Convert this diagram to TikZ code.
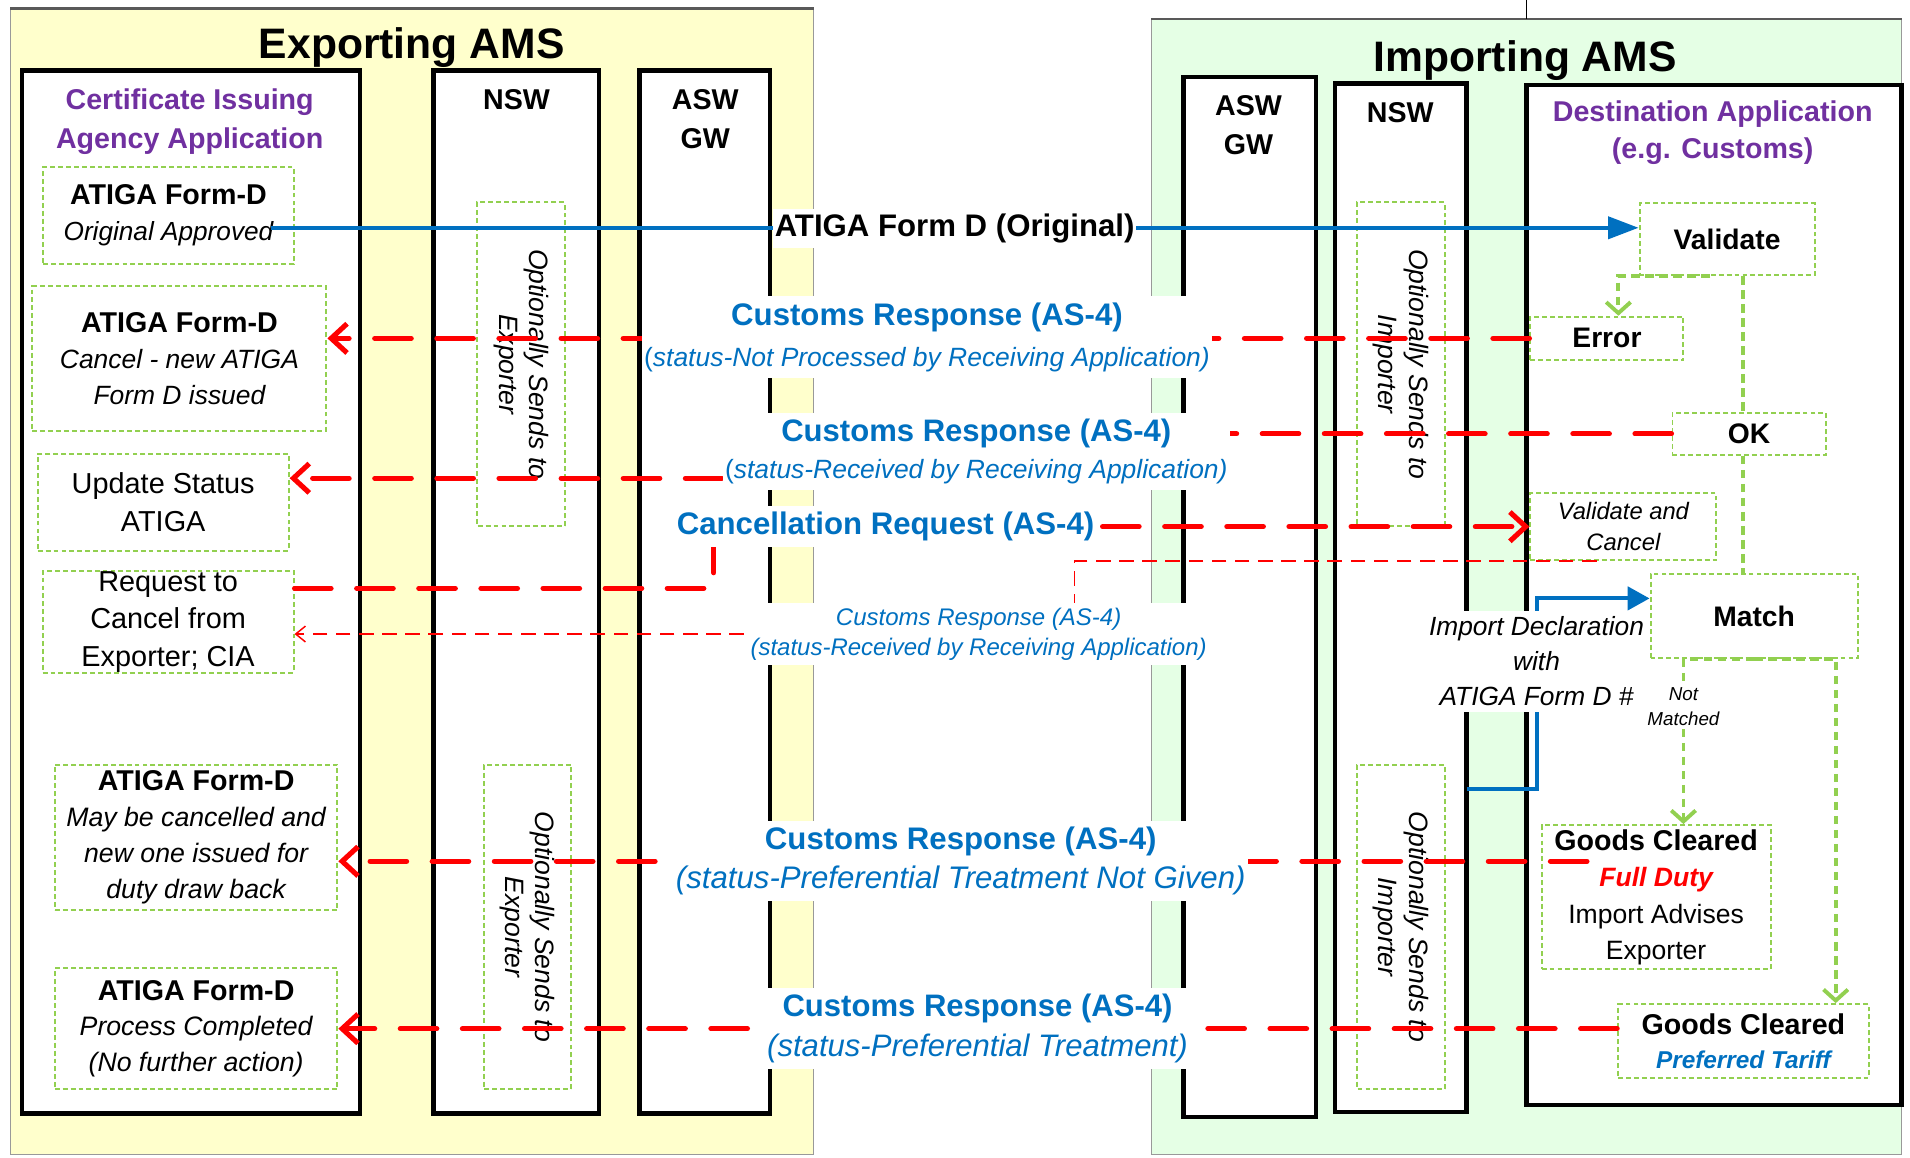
\documentclass[tikz,border=0pt]{standalone}
\usepackage{fontspec}
\setmainfont{Liberation Sans}
\usetikzlibrary{arrows.meta}

\definecolor{bluet}{RGB}{0,112,192}
\definecolor{purplet}{RGB}{112,48,160}
\definecolor{greendot}{RGB}{146,208,80}
\definecolor{redline}{RGB}{255,0,0}
\definecolor{expfill}{RGB}{255,255,204}
\definecolor{impfill}{RGB}{229,255,229}
\newcommand\setfs[2]{\fontsize{#1}{#2}\selectfont}

\begin{document}
\begin{tikzpicture}[x=1pt, y=-1pt,
  panel/.style={draw=black!40, line width=1pt, inner sep=0pt, outer sep=0pt, anchor=north west},
  lane/.style={draw=black, line width=3.6pt, fill=white, inner sep=0pt, outer sep=0pt, anchor=north west},
  head/.style={anchor=base, inner sep=0pt, font=\bfseries\setfs{23.5}{28}},
  dbox/.style={draw=greendot, line width=1.6pt, dash pattern=on 4pt off 2.5pt, inner sep=0pt, align=center},
  opt/.style={dbox, rotate=-90, minimum width=266pt, minimum height=72pt, font=\itshape\setfs{21.8}{24.7}},
  gline/.style={draw=greendot, line width=3.2pt, dash pattern=on 7pt off 4.5pt},
  garrow/.style={gline, -{Straight Barb[length=9pt,width=20pt]}},
  rline/.style={draw=redline, line width=4.2pt, dash pattern=on 30pt off 21pt, line cap=round, -{Straight Barb[length=13pt,width=24pt]}},
  rthin/.style={draw=redline, line width=1.2pt, dash pattern=on 12pt off 7pt, -{Straight Barb[length=8pt,width=13pt]}},
  bline/.style={draw=bluet, line width=3.3pt},
  lbl/.style={fill=white, inner xsep=2pt, inner ysep=5pt, align=center, text=bluet}
]
\useasboundingbox (0,0) rectangle (1568,950);

% ---------- the two member-state panels ----------
\node[panel, fill=expfill, minimum width=659.4pt, minimum height=941pt] (exppanel) at (8.6,7) {};
\node[panel, fill=impfill, minimum width=616pt, minimum height=932.4pt] (imppanel) at (945,15.6) {};
\draw[black!65, line width=2.2pt] (exppanel.north west) -- (exppanel.north east);
\draw[black!65, line width=2.2pt] (imppanel.north west) -- (imppanel.north east);
\coordinate (rail) at (1253,0);
\draw[black, line width=1pt] (rail) -- (rail |- imppanel.north);

% ---------- swim lanes ----------
\node[lane, minimum width=277.5pt, minimum height=856pt] (cia) at (18,58) {};
\node[lane, minimum width=135.5pt, minimum height=856pt] (expnsw) at (356,58) {};
\node[lane, minimum width=107pt, minimum height=856pt] (expasw) at (525,58) {};
\node[lane, minimum width=109pt, minimum height=853.4pt] (impasw) at (971.5,63.4) {};
\node[lane, minimum width=108pt, minimum height=844.3pt] (impnsw) at (1096,68.4) {};
\node[lane, minimum width=308pt, minimum height=837.2pt] (dest) at (1253,69.8) {};

% ---------- titles ----------
\node[anchor=base, inner sep=0pt, font=\bfseries\setfs{35}{40}] (expttl) at (338,47.7) {Exporting AMS};
\node[anchor=base, inner sep=0pt, font=\bfseries\setfs{35}{40}] (impttl) at (1252,58.8) {Importing AMS};
\node[head, text=purplet] (ciat1) at (155.7,89.8) {Certificate Issuing};
\node[head, text=purplet] (ciat2) at (155.7,121.8) {Agency Application};
\node[head] (expnswt) at (424,90) {NSW};
\node[head] (expaswt1) at (579,90) {ASW};
\node[head] (expaswt2) at (579,121.7) {GW};
\node[head] (impaswt1) at (1025,95) {ASW};
\node[head] (impaswt2) at (1025,126.5) {GW};
\node[head] (impnswt) at (1149.6,100.7) {NSW};
\node[head, text=purplet] (destt1) at (1406,100) {Destination Application};
\node[head, text=purplet] (destt2) at (1406,130) {(e.g. Customs)};

% ---------- exporting side activities ----------
\node[dbox, minimum width=205.4pt, minimum height=79.7pt, font=\setfs{23.5}{30}] (b1) at (138.3,176.85)
  {\textbf{ATIGA Form-D}\\{\itshape\setfs{21.5}{30}Original Approved}};
\node[dbox, minimum width=241.4pt, minimum height=119pt, font=\setfs{23.5}{29.5}] (b2) at (147.3,294.5)
  {\textbf{ATIGA Form-D}\\{\itshape\setfs{21.7}{29.5}Cancel - new ATIGA}\\{\itshape\setfs{21.7}{29.5}Form D issued}};
\node[dbox, minimum width=206pt, minimum height=79.3pt, font=\setfs{23.7}{31}] (b3) at (134,412.35)
  {Update Status\\ATIGA};
\node[dbox, minimum width=206pt, minimum height=79pt, font=\setfs{23.7}{31}] (b4) at (138,510.5)
  {Request to\\Cancel from\\Exporter; CIA};
\node[dbox, minimum width=232pt, minimum height=119pt, font=\setfs{23.5}{29.5}] (b5) at (161,687.5)
  {\textbf{ATIGA Form-D}\\{\itshape\setfs{21.9}{29.5}May be cancelled and}\\{\itshape\setfs{21.9}{29.5}new one issued for}\\{\itshape\setfs{21.9}{29.5}duty draw back}};
\node[dbox, minimum width=232pt, minimum height=99pt, font=\setfs{23.5}{29.5}] (b6) at (161,844.5)
  {\textbf{ATIGA Form-D}\\{\itshape\setfs{21.9}{29.5}Process Completed}\\{\itshape\setfs{21.9}{29.5}(No further action)}};

\node[opt] (oe1) at (427.7,299) {Optionally Sends to\\Exporter};
\node[opt] (oe2) at (433,761) {Optionally Sends to\\Exporter};
\node[opt] (oi1) at (1150,299) {Optionally Sends to\\Importer};
\node[opt] (oi2) at (1150,761) {Optionally Sends to\\Importer};

% ---------- destination application activities ----------
\node[dbox, minimum width=143.6pt, minimum height=59pt, font=\bfseries\setfs{23.2}{28}] (validate) at (1417.8,196.5) {Validate};
\node[dbox, minimum width=125.6pt, minimum height=35.5pt, font=\bfseries\setfs{23.2}{28}] (error) at (1319.2,277.75) {Error};
\node[dbox, minimum width=125.8pt, minimum height=34.7pt, font=\bfseries\setfs{23.2}{28}] (ok) at (1435.9,356.15) {OK};
\node[dbox, minimum width=152.6pt, minimum height=54.7pt, font=\itshape\setfs{19.5}{26}] (valcancel) at (1332.7,432.35) {Validate and\\Cancel};
\node[dbox, minimum width=170pt, minimum height=69.5pt, font=\bfseries\setfs{23.2}{28}] (match) at (1440,505.75) {Match};
\node[dbox, minimum width=187.9pt, minimum height=118.5pt, font=\setfs{21.8}{30}] (gc1) at (1359.55,736.55)
  {{\bfseries\setfs{23.5}{30}Goods Cleared}\\{\bfseries\itshape\color{redline}Full Duty}\\Import Advises\\Exporter};
\node[dbox, minimum width=205.6pt, minimum height=60.4pt, font=\setfs{23.5}{28}] (gc2) at (1431.2,854.5)
  {\textbf{Goods Cleared}\\{\bfseries\itshape\color{bluet}\setfs{20}{28}Preferred Tariff}};

% ---------- decision flow inside the destination application ----------
\coordinate (vx) at (1431,0);
\coordinate (nmx) at (1382,0);
\coordinate (ptx) at (1507,0);
\draw[garrow] ([xshift=-14pt]validate.south) -| ([xshift=9.4pt]error.north);
\draw[gline] (validate.south -| vx) -- (ok.north -| vx);
\draw[gline] (ok.south -| vx) -- (match.north -| vx);
\draw[garrow] (match.south) -| (gc1.north -| nmx);
\draw[garrow] (match.south) -| (gc2.north -| ptx);

% ---------- AS-4 responses and requests ----------
\draw[rline] (error.west) -- (error.west -| b2.east);
\coordinate (k2) at (801.5,370);
\draw[rline] (ok.west) -| (k2) |- ([yshift=19.75pt]b3.east);
\coordinate (k3) at (586,0);
\draw[rline] ([yshift=27.5pt]b4.east) -| (k3 |- valcancel.west) -- (valcancel.west);
\coordinate (k4) at (882,0);
\coordinate (r4e) at ([yshift=-10pt]b4.east);
\draw[rthin] ([xshift=-22pt]valcancel.south) -| (k4 |- r4e) -- (r4e);
\coordinate (r5s) at ([xshift=38pt,yshift=29.5pt]gc1.west);
\draw[rline] (r5s) -- (r5s -| b5.east);
\draw[rline] (b6.east -| gc2.west) -- (b6.east);

% ---------- certificate and import declaration ----------
\coordinate (b1s) at ([xshift=-19pt,yshift=-10.15pt]b1.east);
\draw[bline, -{Triangle[length=25pt,width=18pt]}] (b1s) -- (b1s -| validate.west);
\coordinate (decl) at (1204,648);
\coordinate (dk) at (1262,0);
\coordinate (mIn) at ([yshift=14.5pt]match.west);
\draw[bline, -{Triangle[length=18pt,width=19pt]}] (decl) -| (dk |- mIn) -- (mIn);

% ---------- message labels ----------
\node[fill=white, inner xsep=1.5pt, inner ysep=4pt, font=\bfseries\setfs{25.6}{30}] (l0) at (783.7,187.7) {ATIGA Form D (Original)};
\node[lbl, font=\setfs{25.6}{34.2}] (l1) at (761,276.9)
  {\textbf{Customs Response (AS-4)}\\{\setfs{21.7}{34.2}(\textit{status-Not Processed by Receiving Application)}}};
\node[lbl, font=\setfs{25.5}{30.1}] (l2) at (801.5,370.6)
  {\textbf{Customs Response (AS-4)}\\{\setfs{21.7}{30.1}(\textit{status-Received by Receiving Application)}}};
\node[lbl, font=\bfseries\setfs{25.6}{30}] (l3) at (727,432.1) {Cancellation Request (AS-4)};
\node[lbl, inner ysep=4pt, font=\itshape\setfs{19.7}{24.8}] (l4) at (803.4,520.4)
  {Customs Response (AS-4)\\(status-Received by Receiving Application)};
\node[lbl, font=\setfs{25.6}{32}] (l5) at (788.7,706.7)
  {\textbf{Customs Response (AS-4)}\\\textit{(status-Preferential Treatment Not Given)}};
\node[lbl, font=\setfs{25.5}{32.8}] (l6) at (802.5,844.5)
  {\textbf{Customs Response (AS-4)}\\\textit{(status-Preferential Treatment)}};
\node[fill=white, inner xsep=2pt, inner ysep=5pt, align=center, font=\itshape\setfs{21.6}{28.8}] (l7) at (1261.4,543)
  {Import Declaration\\with\\ATIGA Form D \#};
\node[fill=white, inner sep=1.5pt, align=center, font=\itshape\setfs{15.4}{21}] (nm) at (1382,580) {Not\\Matched};

\end{tikzpicture}
\end{document}
